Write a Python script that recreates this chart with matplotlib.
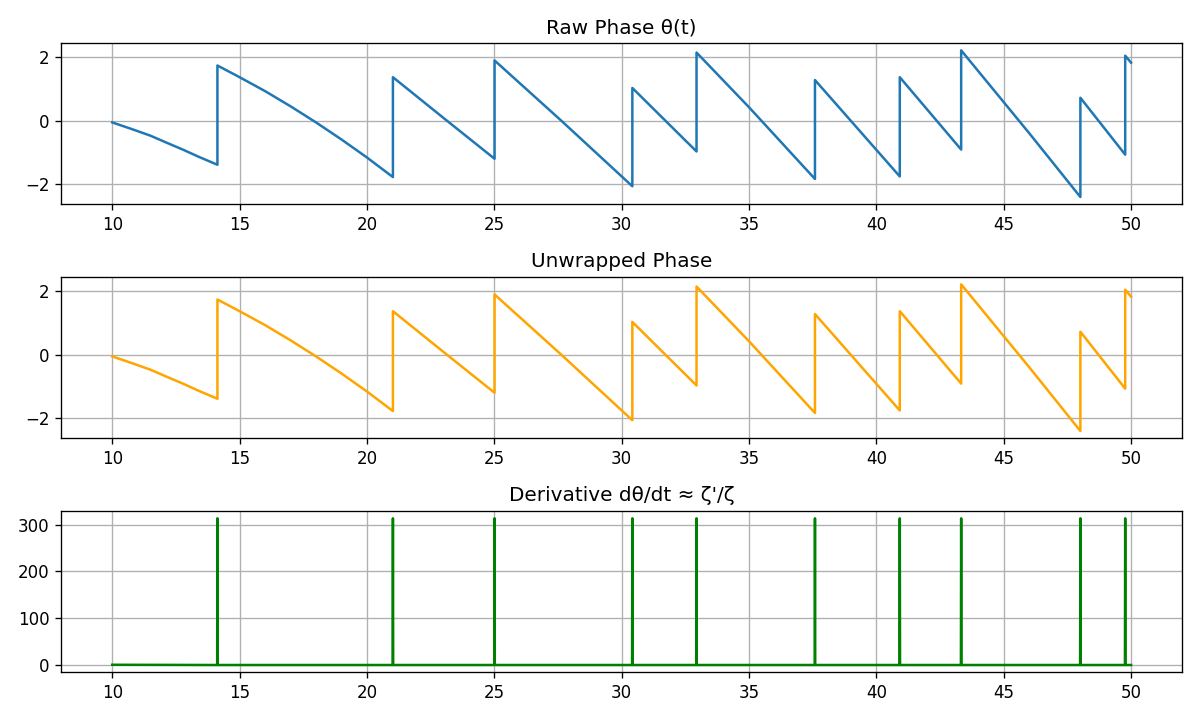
import numpy as np
import matplotlib.pyplot as plt

# zeros of zeta on the critical line (where the phase jumps)
zeros = [14.13, 21.02, 25.01, 30.42, 32.94, 37.59, 40.92, 43.33, 48.01, 49.77]

# phase: knots along each segment, jumps at the zeros
t_phase = [10.0, 10.8, 11.5, 12.1, 12.8, 13.4, 14.13,
           14.13, 15.0, 16.0, 17.0, 18.0, 19.0, 20.0, 21.02,
           21.02, 23.1, 25.01,
           25.01, 27.65, 30.42,
           30.42, 32.94,
           32.94, 35.0, 37.59,
           37.59, 40.92,
           40.92, 43.33,
           43.33, 46.0, 48.01,
           48.01, 49.77,
           49.77, 50.0]
theta = [-0.06, -0.28, -0.48, -0.69, -0.93, -1.15, -1.40,
         1.74, 1.37, 0.93, 0.45, -0.06, -0.60, -1.17, -1.79,
         1.37, 0.02, -1.21,
         1.90, -0.02, -2.08,
         1.03, -0.98,
         2.15, 0.42, -1.85,
         1.28, -1.77,
         1.37, -0.92,
         2.22, -0.40, -2.42,
         0.72, -1.08,
         2.05, 1.83]

# derivative: flat near zero, one tall spike at each zero
t_deriv = [10.0]
dtheta = [-0.3]
for z in zeros:
    t_deriv += [z - 0.01, z, z + 0.01]
    dtheta += [-0.8, 314.0, -0.8]
t_deriv.append(50.0)
dtheta.append(-0.8)

fig, axes = plt.subplots(3, 1, figsize=(10, 6), dpi=120)

axes[0].plot(t_phase, theta)
axes[0].set_title("Raw Phase θ(t)")
axes[0].grid(True)

axes[1].plot(t_phase, theta, color='orange')
axes[1].set_title("Unwrapped Phase")
axes[1].grid(True)

axes[2].plot(t_deriv, dtheta, color='green')
axes[2].set_title("Derivative dθ/dt ≈ ζ'/ζ")
axes[2].grid(True)

plt.tight_layout()
plt.savefig('out.png')
